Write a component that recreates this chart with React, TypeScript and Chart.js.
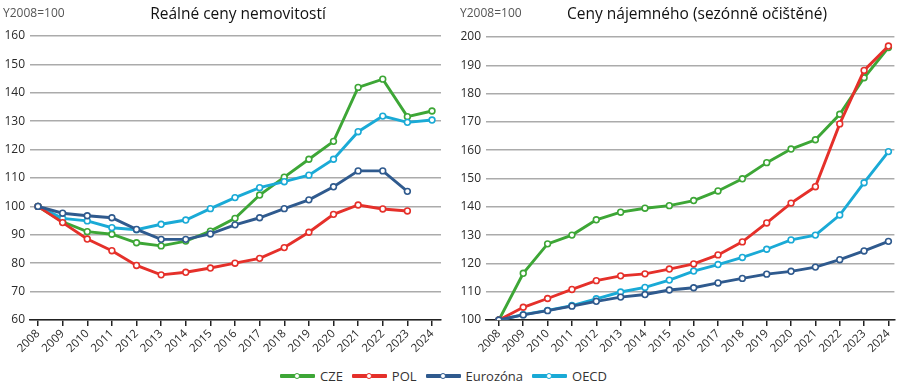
import React, { useEffect, useRef } from 'react';
import { Chart, registerables } from 'chart.js';
Chart.register(...registerables);

const years = [2008, 2009, 2010, 2011, 2012, 2013, 2014, 2015, 2016, 2017, 2018, 2019, 2020, 2021, 2022, 2023, 2024];

// Left: Reálné ceny nemovitostí
const priceCZE = [100, 94.6, 91.1, 90.2, 87.2, 86.1, 87.8, 91.3, 95.8, 104, 110.3, 116.6, 122.9, 141.9, 144.8, 131.6, 133.6];
const pricePOL = [100, 94.3, 88.5, 84.4, 79.2, 75.9, 76.8, 78.3, 80, 81.7, 85.5, 90.9, 97.2, 100.5, 99.1, 98.4];
const priceEA = [100, 97.6, 96.7, 96, 91.9, 88.4, 88.4, 90.3, 93.5, 96, 99.2, 102.3, 106.9, 112.5, 112.5, 105.3];
const priceOECD = [100, 95.8, 94.9, 92.5, 91.8, 93.7, 95.2, 99.2, 103.1, 106.6, 108.7, 111, 116.6, 126.3, 131.8, 129.6, 130.4];

// Right: Ceny nájemného (sezónně očištěné)
const rentCZE = [100, 116.5, 126.9, 130, 135.4, 138.1, 139.5, 140.4, 142.2, 145.6, 149.9, 155.6, 160.4, 163.7, 172.7, 185.6, 196.3];
const rentPOL = [100, 104.5, 107.6, 110.8, 113.9, 115.6, 116.3, 118, 119.8, 123, 127.6, 134.3, 141.3, 147.1, 169.3, 188.2, 196.8];
const rentEA = [100, 101.8, 103.3, 104.9, 106.6, 108.1, 109, 110.6, 111.4, 113.1, 114.7, 116.2, 117.2, 118.7, 121.3, 124.4, 127.8];
const rentOECD = [100, 101.9, 103.4, 105.1, 107.5, 109.9, 111.5, 114.1, 117.3, 119.6, 122.1, 125, 128.3, 130, 137.1, 148.5, 159.5];

const seriesNames = ['CZE', 'POL', 'Eurozóna', 'OECD'];
const COLORS = ['#3da636', '#e5302a', '#2f5a8e', '#1aaad6'];
const ORDERS = [4, 2, 1, 3];

const leftTitle = 'Reálné ceny nemovitostí';
const rightTitle = 'Ceny nájemného (sezónně očištěné)';
const unitLabel = 'Y2008=100';

const FONT = "'Open Sans', 'DejaVu Sans', sans-serif";

function toPts(vals: number[]) {
  return vals.map((v, i) => ({ x: years[i], y: v }));
}

function makeDatasets(all: number[][]) {
  return all.map((vals, i) => ({
    label: seriesNames[i],
    data: toPts(vals),
    borderColor: COLORS[i],
    backgroundColor: COLORS[i],
    borderWidth: 2.9,
    pointRadius: 2.9,
    pointBorderWidth: 1.6,
    pointBackgroundColor: '#ffffff',
    pointBorderColor: COLORS[i],
    tension: 0,
    order: ORDERS[i],
  }));
}

function buildChart(
  canvas: HTMLCanvasElement,
  datasets: any[],
  yMin: number,
  yMax: number,
  yWidth: number,
  xMin: number,
  xMax: number,
  padTop: number,
  padRight: number
) {
  return new Chart(canvas, {
    type: 'line',
    data: { datasets },
    options: {
      animation: false,
      responsive: false,
      maintainAspectRatio: false,
      layout: { padding: { top: padTop, right: padRight, left: 0, bottom: 0 } },
      plugins: { legend: { display: false }, tooltip: { enabled: false } },
      scales: {
        x: {
          type: 'linear',
          min: xMin,
          max: xMax,
          afterBuildTicks: (s: any) => {
            s.ticks = years.map((v) => ({ value: v }));
          },
          afterFit: (s: any) => {
            s.height = 35;
          },
          ticks: {
            autoSkip: false,
            minRotation: 45,
            maxRotation: 45,
            padding: 1,
            color: '#2a2a2a',
            font: { family: FONT, size: 11.5 },
            callback: (v: any) => String(v),
          },
          grid: {
            display: true,
            drawOnChartArea: false,
            drawTicks: true,
            tickLength: 6,
            color: '#222',
            lineWidth: 1.5,
          },
          border: { display: true, color: '#222', width: 1.5 },
        },
        y: {
          min: yMin,
          max: yMax,
          afterFit: (s: any) => {
            s.width = yWidth;
          },
          ticks: {
            stepSize: 10,
            padding: 5,
            color: '#2a2a2a',
            font: { family: FONT, size: 12 },
          },
          grid: { color: '#ababab', lineWidth: 1.5, drawTicks: false },
          border: { display: false },
        },
      },
    },
  });
}

function LegendItem({ name, color }: { name: string; color: string }) {
  return (
    <div style={{ display: 'flex', alignItems: 'center', marginRight: 9 }}>
      <div style={{ position: 'relative', width: 35, height: 4.5, background: color, borderRadius: 1 }}>
        <div
          style={{
            position: 'absolute',
            left: 14,
            top: -1.25,
            width: 4,
            height: 4,
            borderRadius: '50%',
            background: '#fff',
            border: `1.5px solid ${color}`,
          }}
        />
      </div>
      <span style={{ marginLeft: 5, fontSize: 13, color: '#333', fontFamily: FONT }}>{name}</span>
    </div>
  );
}

export default function App() {
  const leftRef = useRef<HTMLCanvasElement>(null);
  const rightRef = useRef<HTMLCanvasElement>(null);

  useEffect(() => {
    document.body.style.margin = '0';
    const c1 = buildChart(
      leftRef.current!,
      makeDatasets([priceCZE, pricePOL, priceEA, priceOECD]),
      60,
      160,
      30,
      2007.675,
      2024.365,
      36,
      9
    );
    const c2 = buildChart(
      rightRef.current!,
      makeDatasets([rentCZE, rentPOL, rentEA, rentOECD]),
      100,
      200,
      36,
      2007.47,
      2024.245,
      37,
      2
    );
    return () => {
      c1.destroy();
      c2.destroy();
    };
  }, []);

  const textBase: React.CSSProperties = { position: 'absolute', fontFamily: FONT, whiteSpace: 'nowrap', lineHeight: '16px' };

  return (
    <div style={{ position: 'relative', width: 900, height: 385, background: '#fff', overflow: 'hidden' }}>
      <canvas ref={leftRef} width={450} height={355} style={{ position: 'absolute', left: 0, top: 0 }} />
      <canvas ref={rightRef} width={450} height={355} style={{ position: 'absolute', left: 450, top: 0 }} />
      <div style={{ ...textBase, left: 3, top: 5, fontSize: 12, color: '#555' }}>{unitLabel}</div>
      <div style={{ ...textBase, left: 460, top: 5, fontSize: 12, color: '#555' }}>{unitLabel}</div>
      <div style={{ ...textBase, left: 0, width: 476, top: 5, fontSize: 15.5, fontWeight: 500, color: '#111', textAlign: 'center' }}>{leftTitle}</div>
      <div style={{ ...textBase, left: 450, width: 494, top: 5, fontSize: 15.5, fontWeight: 500, color: '#111', textAlign: 'center' }}>{rightTitle}</div>
      <div style={{ position: 'absolute', left: 280, top: 368, height: 16, display: 'flex', alignItems: 'center' }}>
        {seriesNames.map((n, i) => (
          <LegendItem key={n} name={n} color={COLORS[i]} />
        ))}
      </div>
    </div>
  );
}
